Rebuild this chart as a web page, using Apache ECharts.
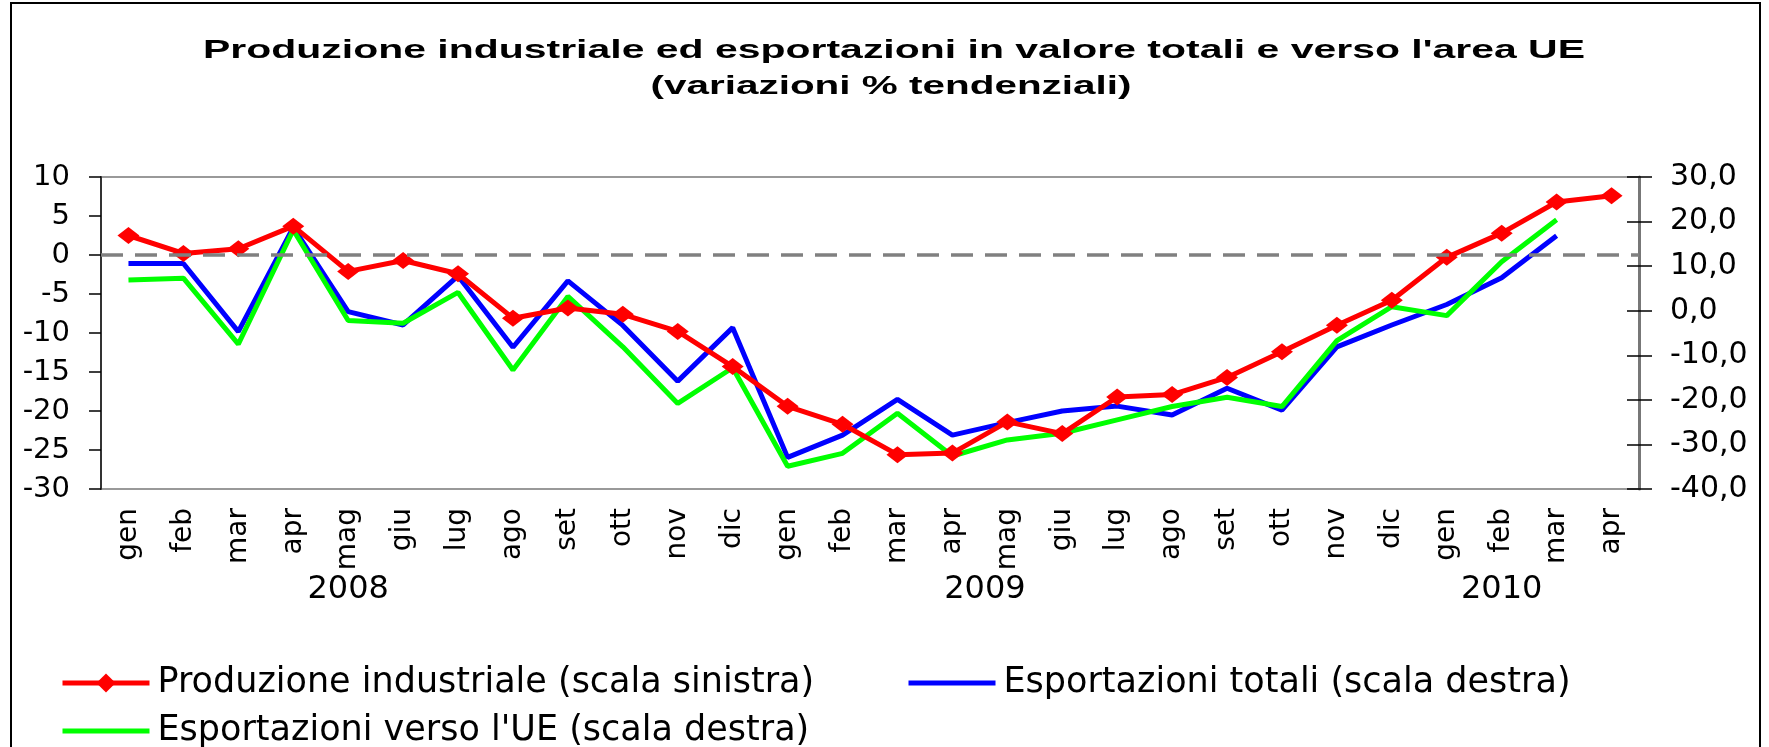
<!DOCTYPE html>
<html>
<head>
<meta charset="utf-8">
<script src="https://cdn.jsdelivr.net/npm/echarts@6/dist/echarts.min.js"></script>
<style>
    html, body { margin: 0; padding: 0; background: #fff; }
    #chart { width: 1769px; height: 747px; }
</style>
</head>
<body>
<div id="chart"></div>
<script>
    // mesi gen 2008 - apr 2010
    var categories = ['gen', 'feb', 'mar', 'apr', 'mag', 'giu', 'lug', 'ago', 'set', 'ott', 'nov', 'dic',
        'gen', 'feb', 'mar', 'apr', 'mag', 'giu', 'lug', 'ago', 'set', 'ott', 'nov', 'dic',
        'gen', 'feb', 'mar', 'apr'];
    var years = ['2008', '2009', '2010'];
    var yearIndex = [4, 15, 25];

    var produzione = [2.5, 0.2, 0.8, 3.7, -2.1, -0.7, -2.4, -8.1, -6.8, -7.6, -9.8, -14.3,
        -19.4, -21.7, -25.6, -25.4, -21.4, -22.9, -18.2, -17.9, -15.7, -12.4, -9.0, -5.8,
        -0.3, 2.8, 6.8, 7.6];
    var esportTotali = [10.6, 10.6, -4.7, 18.7, -0.2, -3.2, 7.8, -8.2, 6.7, -3.3, -15.8, -3.8,
        -32.9, -27.9, -19.9, -27.9, -25.1, -22.5, -21.4, -23.4, -17.4, -22.3, -8.1, -3.2,
        1.4, 7.4, 16.8, null];
    var esportUE = [6.9, 7.3, -7.5, 18.1, -2.2, -2.8, 4.1, -13.3, 3.2, -8.1, -20.8, -12.8,
        -34.9, -32.0, -23.0, -32.6, -29.0, -27.5, -24.5, -21.5, -19.4, -21.5, -6.7, 0.9,
        -1.1, 11.0, 20.4, null];

    var names = ['Produzione industriale (scala sinistra)', 'Esportazioni totali (scala destra)', "Esportazioni verso l'UE (scala destra)"];
    var titleLines = ["Produzione industriale ed esportazioni in valore totali e verso l'area UE", '(variazioni % tendenziali)'];

    var FONT = '"DejaVu Sans", sans-serif';
    var TITLE_FONT = 'bold 25px "Liberation Sans", Arial, sans-serif';

    // the reference title is drawn stretched, so measure and scale it
    var ctx = document.createElement('canvas').getContext('2d');
    ctx.font = TITLE_FONT;
    function stretch(text, target) {
        return target / ctx.measureText(text).width;
    }

    var legendText = { fontFamily: FONT, fontSize: 35, color: '#000', lineHeight: 38, padding: [0, 0, 0, 3] };

    var myChart = echarts.init(document.getElementById('chart'));

    var option = {
        animation: false,
        backgroundColor: '#fff',
        graphic: [
            {
                type: 'rect',
                shape: { x: 11, y: 3, width: 1749, height: 800 },
                style: { fill: 'none', stroke: '#000', lineWidth: 2 },
                silent: true
            },
            {
                type: 'text', x: 894, y: 51, scaleX: stretch(titleLines[0], 1382),
                style: { text: titleLines[0], font: TITLE_FONT, fill: '#000', align: 'center', verticalAlign: 'middle' }
            },
            {
                type: 'text', x: 891, y: 87, scaleX: stretch(titleLines[1], 481),
                style: { text: titleLines[1], font: TITLE_FONT, fill: '#000', align: 'center', verticalAlign: 'middle' }
            }
        ],
        legend: [
            {
                data: [names[0]], left: 60, top: 664, padding: 0,
                itemWidth: 87, itemHeight: 24,
                lineStyle: { width: 5 },
                textStyle: legendText
            },
            {
                data: [names[1]], left: 906, top: 664, padding: 0,
                itemWidth: 87, itemHeight: 24,
                lineStyle: { width: 5 },
                itemStyle: { opacity: 0 },
                textStyle: legendText
            },
            {
                data: [names[2]], left: 60, top: 712, padding: 0,
                itemWidth: 87, itemHeight: 24,
                lineStyle: { width: 5 },
                itemStyle: { opacity: 0 },
                textStyle: legendText
            }
        ],
        grid: {
            left: 101,
            right: 130,
            top: 177,
            bottom: 258,
            show: true,
            borderColor: '#999',
            borderWidth: 2,
            containLabel: false,
            outerBoundsMode: 'none'
        },
        xAxis: [
            {
                type: 'category',
                data: categories,
                boundaryGap: true,
                axisLine: { show: false },
                axisTick: { show: false },
                axisLabel: {
                    interval: 0,
                    rotate: 90,
                    margin: 19,
                    fontFamily: FONT,
                    fontSize: 28,
                    color: '#000'
                },
                splitLine: { show: false }
            },
            {
                type: 'category',
                data: categories,
                position: 'bottom',
                boundaryGap: true,
                axisLine: { show: false },
                axisTick: { show: false },
                axisLabel: {
                    interval: 0,
                    margin: 85,
                    fontFamily: FONT,
                    fontSize: 32,
                    lineHeight: 32,
                    color: '#000',
                    formatter: function (v, i) {
                        var k = yearIndex.indexOf(i);
                        if (k < 0) return '';
                        // 2009 sits between apr and mag
                        return k === 1 ? '{s|' + years[k] + '}' : years[k];
                    },
                    rich: {
                        s: { fontFamily: FONT, fontSize: 32, lineHeight: 32, color: '#000', padding: [0, 0, 0, 65] }
                    }
                },
                splitLine: { show: false }
            }
        ],
        yAxis: [
            {
                type: 'value',
                position: 'left',
                min: -30,
                max: 10,
                interval: 5,
                axisLine: { show: true, lineStyle: { color: '#333', width: 2 } },
                axisTick: { show: true, length: 12, lineStyle: { color: '#000', width: 1.5 } },
                axisLabel: { margin: 31, fontFamily: FONT, fontSize: 29, color: '#000' },
                splitLine: { show: false }
            },
            {
                type: 'value',
                position: 'right',
                min: -40,
                max: 30,
                interval: 10,
                axisLine: { show: true, lineStyle: { color: '#777', width: 3 } },
                axisTick: { show: true, length: 13, lineStyle: { color: '#000', width: 1.5 } },
                axisLabel: {
                    margin: 31,
                    fontFamily: FONT,
                    fontSize: 30,
                    color: '#000',
                    formatter: function (v) {
                        return v.toFixed(1).replace('.', ',');
                    }
                },
                splitLine: { show: false }
            },
            {
                // inner half of the right ticks
                type: 'value',
                position: 'right',
                min: -40,
                max: 30,
                interval: 10,
                axisLine: { show: false },
                axisTick: { show: true, inside: true, length: 12, lineStyle: { color: '#000', width: 1.5 } },
                axisLabel: { show: false },
                splitLine: { show: false }
            }
        ],
        series: [
            {
                name: names[0],
                type: 'line',
                yAxisIndex: 0,
                data: produzione,
                z: 4,
                symbol: 'diamond',
                symbolSize: [22, 17],
                itemStyle: { color: '#ff0000' },
                lineStyle: { color: '#ff0000', width: 5 },
                markLine: {
                    silent: true,
                    symbol: ['none', 'none'],
                    label: { show: false },
                    lineStyle: { color: '#808080', width: 3.5, type: [22, 12] },
                    data: [{ yAxis: 0 }]
                }
            },
            {
                name: names[1],
                type: 'line',
                yAxisIndex: 1,
                data: esportTotali,
                z: 2,
                symbol: 'none',
                itemStyle: { color: '#0000ff' },
                lineStyle: { color: '#0000ff', width: 5 }
            },
            {
                name: names[2],
                type: 'line',
                yAxisIndex: 1,
                data: esportUE,
                z: 3,
                symbol: 'none',
                itemStyle: { color: '#00ff00' },
                lineStyle: { color: '#00ff00', width: 5 }
            }
        ]
    };

    myChart.setOption(option);
</script>
</body>
</html>
